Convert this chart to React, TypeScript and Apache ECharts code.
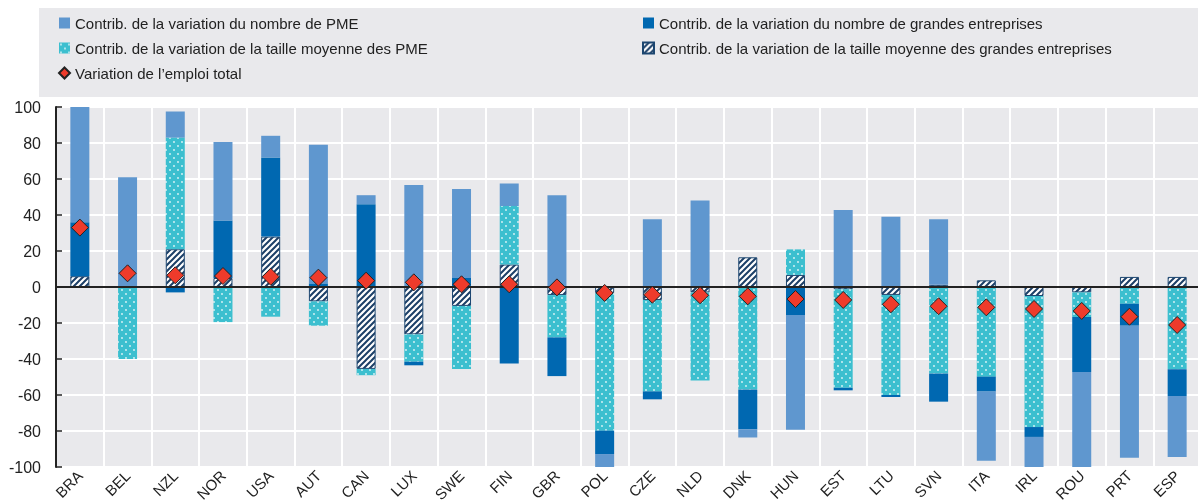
import React, { useEffect, useRef } from "react";
import * as echarts from "echarts";

const categories = ["BRA","BEL","NZL","NOR","USA","AUT","CAN","LUX","SWE","FIN","GBR","POL","CZE","NLD","DNK","HUN","EST","LTU","SVN","ITA","IRL","ROU","PRT","ESP"];

const smeCount = [64, 61, 14.5, 43.5, 12, 77, 5, 56.7, 49.5, 12.5, 51, -7.5, 37.6, 48, -4.6, -63.7, 42.8, 39, 36.5, -38.4, -17, -53, -73.3, -33.8];
const largeCount = [30, 0, -3, 32, 44, 2, 46, -2, 5, -42.5, -21.5, -13, -4.4, 0, -22, -15.6, -1.4, -1.1, -15.6, -8.3, -5.5, -30.5, -12.2, -14.9];
const smeSize = [0, -40, 62, -19.5, -16.5, -13.5, -3.5, -15.2, -35, 32.5, -23.5, -76.5, -50.8, -49, -57, 14.2, -54.7, -55.6, -48.1, -49.8, -72.8, -13.7, -9.3, -45.7];
const largeSize = [6, 0, 21, 5, 28, -8, -45.5, -26.3, -10.5, 12.5, -4.5, -3.3, -7.2, -3, 16.5, 6.7, -1.3, -4.4, 1.2, 3.7, -5, -3, 5.6, 5.6];
const totalEmp = [33, 7.6, 6.5, 6.1, 5.7, 5.2, 3.5, 2.6, 1.5, 1.5, -0.2, -3.3, -4.3, -4.6, -5.2, -6.7, -7.2, -9.6, -10.7, -11.3, -12.2, -13.3, -16.5, -21.1];

const N_SME_COUNT = "Contrib. de la variation du nombre de PME";
const N_LARGE_COUNT = "Contrib. de la variation du nombre de grandes entreprises";
const N_SME_SIZE = "Contrib. de la variation de la taille moyenne des PME";
const N_LARGE_SIZE = "Contrib. de la variation de la taille moyenne des grandes entreprises";
const N_TOTAL = "Variation de l\u2019emploi total";

const yTicks = [-100, -80, -60, -40, -20, 0, 20, 40, 60, 80, 100];

function makeDots(): HTMLCanvasElement {
  const c = document.createElement("canvas");
  c.width = 8; c.height = 8;
  const g = c.getContext("2d")!;
  g.fillStyle = "#3cbfcf";
  g.fillRect(0, 0, 8, 8);
  g.fillStyle = "rgba(255,255,255,0.85)";
  [[2, 2], [6, 6]].forEach(([x, y]) => { g.beginPath(); g.arc(x, y, 0.9, 0, Math.PI * 2); g.fill(); });
  return c;
}

function makeHatch(): HTMLCanvasElement {
  const c = document.createElement("canvas");
  c.width = 6; c.height = 6;
  const g = c.getContext("2d")!;
  g.fillStyle = "#ffffff";
  g.fillRect(0, 0, 6, 6);
  g.strokeStyle = "#1c3f67";
  g.lineWidth = 2;
  g.beginPath();
  g.moveTo(-1, 7); g.lineTo(7, -1);
  g.moveTo(-4, 4); g.lineTo(4, -4);
  g.moveTo(2, 10); g.lineTo(10, 2);
  g.stroke();
  return c;
}

const nz = (arr: number[]) => arr.map((v) => (v === 0 ? "-" : v));

export default function App() {
  const ref = useRef<HTMLDivElement>(null);
  useEffect(() => {
    if (!ref.current) return;
    const chart = echarts.init(ref.current, null, { renderer: "svg" });
    const dots = { image: makeDots(), repeat: "repeat" };
    const hatch = { image: makeHatch(), repeat: "repeat" };
    const font = "'Liberation Sans', Arial, sans-serif";
    const barBase = { type: "bar", stack: "s", barWidth: 19 };
    const legendText = { fontSize: 15, color: "#222", lineHeight: 16, fontFamily: font };
    const flat = { borderWidth: 0 };
    chart.setOption({
      animation: false,
      textStyle: { fontFamily: font },
      graphic: [
        { type: "rect", shape: { x: 39, y: 8, width: 1170, height: 89 }, style: { fill: "#e9e9ec" }, silent: true, z: -10 },
      ],
      legend: [
        {
          orient: "vertical", left: 58, top: 15, padding: 0, itemWidth: 11, itemHeight: 11, itemGap: 9,
          textStyle: legendText, selectedMode: false,
          data: [
            { name: N_SME_COUNT, icon: "rect", itemStyle: flat },
            { name: N_SME_SIZE, icon: "rect", itemStyle: flat },
            { name: N_TOTAL, icon: "diamond" },
          ],
        },
        {
          orient: "vertical", left: 642, top: 15, padding: 0, itemWidth: 11, itemHeight: 11, itemGap: 9,
          textStyle: legendText, selectedMode: false,
          data: [
            { name: N_LARGE_COUNT, icon: "rect", itemStyle: flat },
            { name: N_LARGE_SIZE, icon: "rect" },
          ],
        },
      ],
      grid: {
        left: 56, top: 107, width: 1145, height: 360, backgroundColor: "#e9e9ec", show: true, borderWidth: 0,
        containLabel: false, outerBoundsMode: "none",
      },
      xAxis: {
        type: "category", data: categories,
        axisLine: { show: false }, axisTick: { show: false },
        splitLine: { show: true, lineStyle: { color: "#ffffff", width: 2 } },
        axisLabel: { rotate: 45, fontSize: 15, color: "#222", margin: 6, interval: 0, fontFamily: font },
      },
      yAxis: {
        type: "value", min: yTicks[0], max: yTicks[yTicks.length - 1], interval: 20,
        axisLine: { show: true, lineStyle: { color: "#222", width: 2 } },
        axisTick: { show: true, inside: true, length: 6, lineStyle: { color: "#222", width: 1.5 } },
        splitLine: { show: true, lineStyle: { color: "#ffffff", width: 2 } },
        axisLabel: { fontSize: 16, color: "#222", margin: 15, fontFamily: font },
      },
      series: [
        {
          ...barBase, name: N_LARGE_SIZE, data: nz(largeSize),
          itemStyle: { color: hatch, borderColor: "#1c4670", borderWidth: 1 },
          markLine: {
            silent: true, symbol: ["none", "none"], label: { show: false },
            lineStyle: { color: "#222", width: 2, type: "solid" },
            data: [{ yAxis: 0 }], z: 5,
          },
        },
        { ...barBase, name: N_SME_SIZE, data: nz(smeSize), itemStyle: { color: dots } },
        { ...barBase, name: N_LARGE_COUNT, data: nz(largeCount), itemStyle: { color: "#0068b1" } },
        { ...barBase, name: N_SME_COUNT, data: nz(smeCount), itemStyle: { color: "#5f97cf" } },
        {
          type: "scatter", name: N_TOTAL, data: totalEmp, symbol: "diamond", symbolSize: 17, z: 10,
          itemStyle: { color: "#ee3b2b", borderColor: "#222", borderWidth: 1, opacity: 1 },
        },
      ],
    });
    return () => chart.dispose();
  }, []);
  return <div ref={ref} style={{ position: "fixed", left: 0, top: 0, width: 1198, height: 504 }} />;
}
